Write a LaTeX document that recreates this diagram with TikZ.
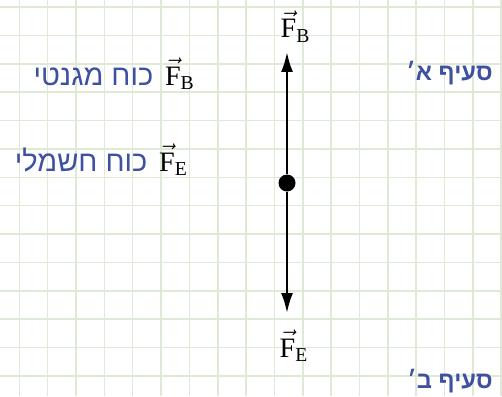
\documentclass[tikz,border=0pt]{standalone}
\usepackage{amsmath}
\usepackage{fontspec}
\setmainfont{Liberation Serif}
\newfontfamily\hebfont[Script=Hebrew]{Liberation Sans}
\TeXXeTstate=1
\usepackage{xcolor}
\usepackage{tikz}
\usetikzlibrary{arrows.meta,positioning}

\definecolor{gridgreen}{RGB}{222,234,214}
\definecolor{hebblue}{RGB}{62,80,160}
\newcommand{\vF}[1]{$\vec{\text{F}}_{\text{#1}}$}

\begin{document}
\begin{tikzpicture}[
			x=0.02cm, y=-0.02cm,
			>={Latex[length=4mm,width=2.4mm]},
			force/.style={->, line width=1.3pt},
			charge/.style={circle, fill, inner sep=0pt, minimum size=3.4mm},
			vlbl/.style={font=\fontsize{16}{19}\selectfont, inner sep=0pt, anchor=base},
			heb/.style={text=hebblue, font=\hebfont\fontsize{16.5}{19}\selectfont, inner sep=0pt},
			sec/.style={text=hebblue, font=\hebfont\bfseries\fontsize{13.5}{16}\selectfont, inner sep=0pt, anchor=base east},
			grid line/.style={gridgreen, line width=0.9pt}
			]
			
			\useasboundingbox (0,0) rectangle (502,396);
			
			% Grelha
			\foreach \i in {0,...,17} \draw[grid line] (19.3+28.35*\i,0) -- (19.3+28.35*\i,396);
			\foreach \j in {0,...,13} \draw[grid line] (0,7.2+28.35*\j) -- (502,7.2+28.35*\j);
			
			% Carga e forças
			\node[charge] (q) at (287,183) {};
			\coordinate (tipB) at (287,52);
			\coordinate (tipE) at (287,313);
			\draw[force] (q) -- (tipB);
			\draw[force] (q) -- (tipE);
			
			\node[vlbl] (fbTop) at (295.5,37.7) {\vF{B}};
			\node[vlbl] (feBot) at (294,357) {\vF{E}};
			
			% Legenda
			\node[vlbl, anchor=base east] (legB) at (195,85) {\vF{B}};
			\node[heb, base left=0.22cm of legB] (magn) {\beginR כוח מגנטי\endR};
			\node[vlbl, anchor=base east] (legE) at (188,171) {\vF{E}};
			\node[heb, base left=0.22cm of legE] (elec) {\beginR כוח חשמלי\endR};
			
			% Secções
			\node[sec] (secA) at (493,80) {\beginR סעיף א׳\endR};
			\node[sec] (secB) at (493,388) {\beginR סעיף ב׳\endR};
			
		\end{tikzpicture}
\end{document}
